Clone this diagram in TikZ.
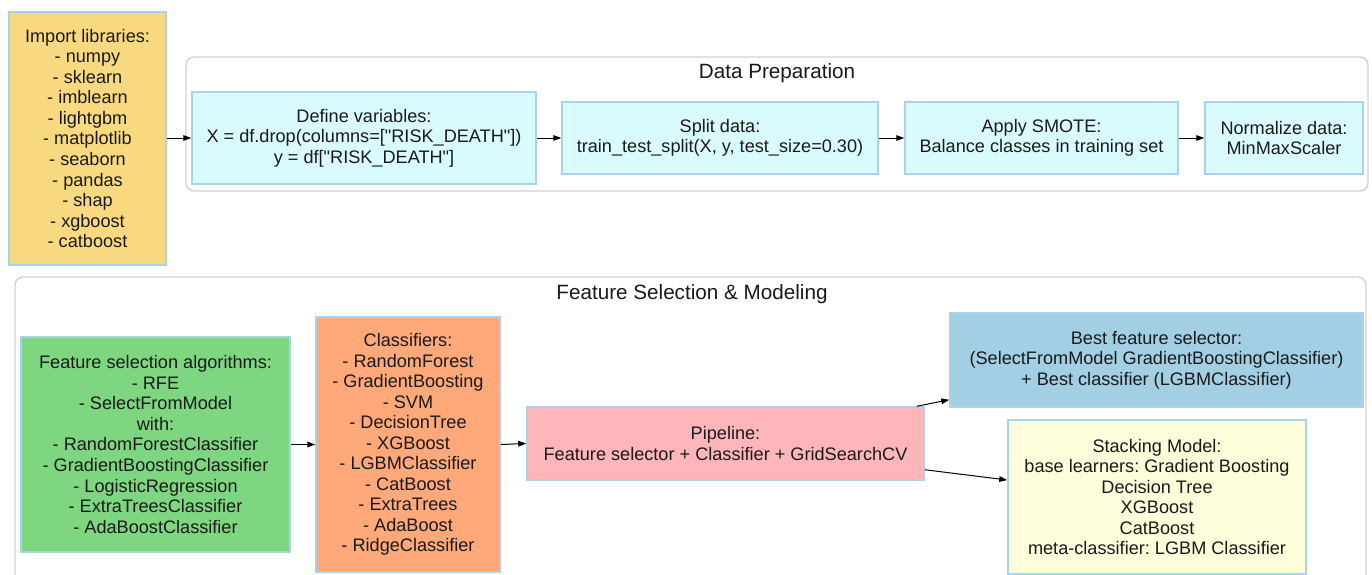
\documentclass[tikz,border=0pt]{standalone}
\usepackage{fontspec}
\newfontfamily\labelfont{Liberation Sans}
\usetikzlibrary{arrows.meta,calc}

\definecolor{bordercol}{HTML}{A9D3EC}
\definecolor{clustercol}{HTML}{D2D2D2}
\definecolor{impcol}{HTML}{F8D980}
\definecolor{prepcol}{HTML}{D9FBFE}
\definecolor{fscol}{HTML}{7ED680}
\definecolor{clscol}{HTML}{FFA87A}
\definecolor{pipecol}{HTML}{FFB6BA}
\definecolor{bestcol}{HTML}{A3CFE4}
\definecolor{stackcol}{HTML}{FDFDDC}
\definecolor{txtcol}{HTML}{1A1A1A}

\tikzset{
  stagebox/.style={draw=bordercol, line width=1.1pt, inner sep=0pt,
    align=center, text=txtcol,
    font=\labelfont\frenchspacing\fontsize{13.6}{15.4}\selectfont},
  cluster/.style={draw=clustercol, line width=1.1pt, rounded corners=6pt,
    inner sep=0pt},
  clustertitle/.style={text=txtcol, inner sep=0pt,
    font=\labelfont\fontsize{15.5}{18}\selectfont},
  arr/.style={draw=black, line width=0.75pt,
    -{Triangle[length=6pt,width=4.2pt]}}
}

\begin{document}
\begin{tikzpicture}[x=0.75pt, y=-0.75pt]
\useasboundingbox (0,0) rectangle (1372,575);
\clip (0,0) rectangle (1372,575);
\fill[white] (0,0) rectangle (1372,575);

% clusters
\node[cluster, minimum width={1182*0.75pt}, minimum height={134*0.75pt}] (dp) at (777,124) {};
\node[clustertitle] (dptitle) at (777,73) {Data Preparation};
\node[cluster, minimum width={1351*0.75pt}, minimum height={306*0.75pt}] (fm) at (690.5,430) {};
\node[clustertitle] (fmtitle) at (692,294) {Feature Selection \& Modeling};

% import step
\node[stagebox, fill=impcol, minimum width={157*0.75pt}, minimum height={253*0.75pt}] (imp) at (87.5,138.5)
  {Import libraries:\\- numpy\\- sklearn\\- imblearn\\- lightgbm\\- matplotlib\\- seaborn\\- pandas\\- shap\\- xgboost\\- catboost};

% data preparation
\node[stagebox, fill=prepcol, minimum width={344*0.75pt}, minimum height={92*0.75pt}] (def) at (364,138)
  {Define variables:\\X = df.drop(columns=["RISK\_DEATH"])\\y = df["RISK\_DEATH"]};
\node[stagebox, fill=prepcol, minimum width={316*0.75pt}, minimum height={72*0.75pt}] (split) at (720,138)
  {Split data:\\train\_test\_split(X, y, test\_size=0.30)};
\node[stagebox, fill=prepcol, minimum width={273*0.75pt}, minimum height={72*0.75pt}] (smote) at (1041.5,138)
  {Apply SMOTE:\\Balance classes in training set};
\node[stagebox, fill=prepcol, minimum width={158*0.75pt}, minimum height={72*0.75pt}] (norm) at (1284,138)
  {Normalize data:\\MinMaxScaler};

% feature selection and modeling
\node[stagebox, fill=fscol, minimum width={269*0.75pt}, minimum height={215*0.75pt}] (fs) at (155.5,444.5)
  {Feature selection algorithms:\\- RFE\\- SelectFromModel\\with:\\- RandomForestClassifier\\- GradientBoostingClassifier\\- LogisticRegression\\- ExtraTreesClassifier\\- AdaBoostClassifier};
\node[stagebox, fill=clscol, minimum width={184*0.75pt}, minimum height={255*0.75pt}] (cls) at (408,444.5)
  {Classifiers:\\- RandomForest\\- GradientBoosting\\- SVM\\- DecisionTree\\- XGBoost\\- LGBMClassifier\\- CatBoost\\- ExtraTrees\\- AdaBoost\\- RidgeClassifier};
\node[stagebox, fill=pipecol, minimum width={397*0.75pt}, minimum height={73*0.75pt}] (pipe) at (725.5,443.5)
  {Pipeline:\\Feature selector + Classifier + GridSearchCV};
\node[stagebox, fill=bestcol, minimum width={413*0.75pt}, minimum height={94*0.75pt}] (best) at (1156.5,360)
  {Best feature selector:\\(SelectFromModel GradientBoostingClassifier)\\+ Best classifier (LGBMClassifier)};
\node[stagebox, fill=stackcol, minimum width={298*0.75pt}, minimum height={154*0.75pt}] (stack) at (1157,497)
  {Stacking Model:\\base learners: Gradient Boosting\\Decision Tree\\XGBoost\\CatBoost\\meta-classifier: LGBM Classifier};

% connectors
\draw[arr] (imp.east |- def.west) -- (def.west);
\draw[arr] (def.east) -- (split.west);
\draw[arr] (split.east) -- (smote.west);
\draw[arr] (smote.east) -- (norm.west);
\draw[arr] (fs.east) -- (cls.west);
\draw[arr] (cls.east) -- (pipe.west);
\draw[arr] ($(pipe.north east)+(-8,0)$) -- ($(best.south west)+(0,-8)$);
\draw[arr] ($(pipe.south east)+(0,-11)$) -- ($(stack.west)+(0,-17)$);
\end{tikzpicture}
\end{document}
